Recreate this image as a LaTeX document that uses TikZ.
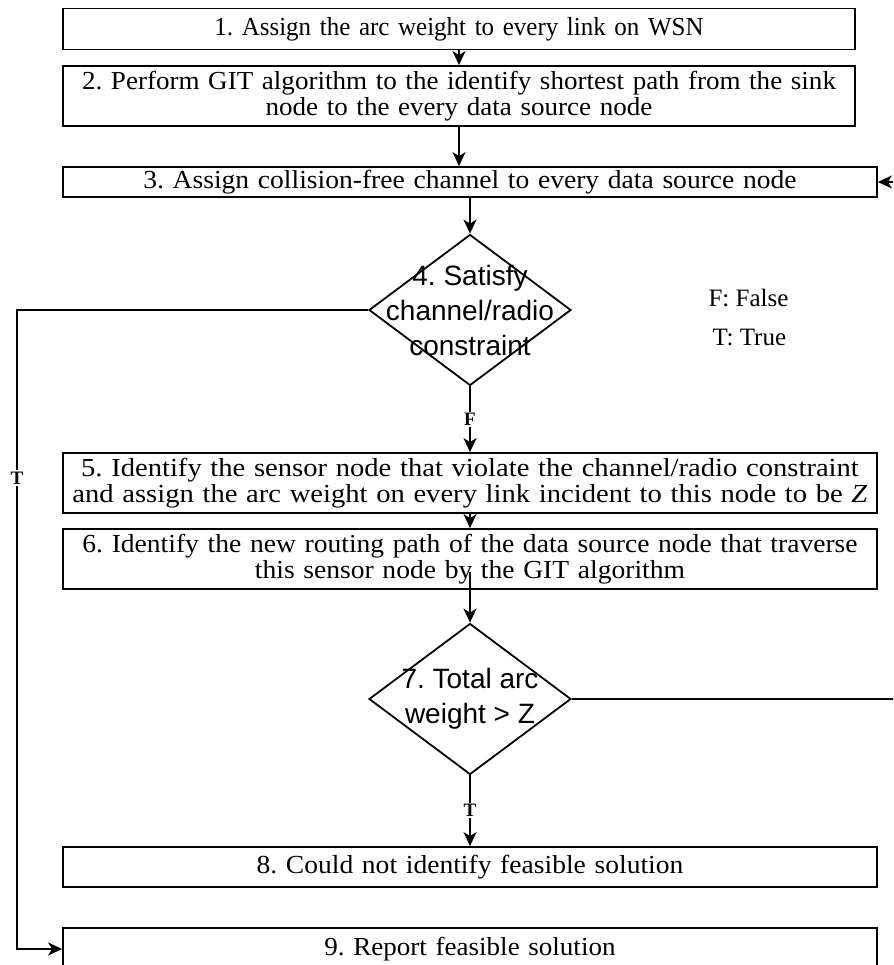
\documentclass[tikz,border=0pt]{standalone}
\usepackage{fontspec}
\setmainfont{Liberation Serif}
\newfontfamily\diafont{Liberation Sans}
% slightly different horizontal set widths for the step texts
\newfontfamily\serifA[FakeStretch=0.96]{Liberation Serif}
\newfontfamily\serifB[FakeStretch=1.04]{Liberation Serif}
\newfontfamily\serifC[FakeStretch=1.06]{Liberation Serif}
\newfontfamily\serifD[FakeStretch=1.10]{Liberation Serif}
\usetikzlibrary{shapes.geometric,arrows.meta}
\frenchspacing
\begin{document}
\begin{tikzpicture}[x=1pt,y=-1pt,
  stepbox/.style={draw, line width=1.8pt, minimum width=814pt, text width=806pt,
    align=center, inner sep=0pt},
  narrowbox/.style={stepbox, minimum width=792pt, text width=784pt},
  decision/.style={draw, diamond, line width=1.8pt, inner sep=0pt,
    minimum width=202pt, minimum height=151pt},
  dtext/.style={align=center, font=\diafont\fontsize{28}{35}\selectfont},
  conn/.style={line width=2pt, -{Stealth[length=14pt,width=13pt,inset=4pt]}},
  lab/.style={fill=white, inner sep=1.5pt, font=\fontsize{19}{19}\selectfont\bfseries},
  legend/.style={anchor=west, font=\fontsize{25}{28}\selectfont}]
\useasboundingbox (0,0) rectangle (893,965);
\clip (0,0) rectangle (893,965);

% process steps
\node[narrowbox, minimum height=41pt, font=\serifA\fontsize{26}{26}\selectfont] (b1) at (459,29)
  {1. Assign the arc weight to every link on WSN};
\node[narrowbox, minimum height=60pt, font=\serifB\fontsize{26}{26}\selectfont] (b2) at (459,96)
  {2. Perform GIT algorithm to the identify shortest path from the sink\\ node to the every data source node};
\node[stepbox, minimum height=30pt, font=\serifC\fontsize{26}{26}\selectfont] (b3) at (470,182)
  {3. Assign collision-free channel to every data source node};
\node[stepbox, minimum height=60pt, font=\serifD\fontsize{26}{26}\selectfont] (b5) at (470,483)
  {5. Identify the sensor node that violate the channel/radio constraint\\ and assign the arc weight on every link incident to this node to be \textit{Z}};
\node[stepbox, minimum height=60pt, font=\serifC\fontsize{26}{26}\selectfont] (b6) at (470,559)
  {6. Identify the new routing path of the data source node that traverse\\ this sensor node by the GIT algorithm};
\node[stepbox, minimum height=40pt, font=\serifC\fontsize{26}{26}\selectfont] (b8) at (470,867)
  {8. Could not identify feasible solution};
\node[stepbox, minimum height=42pt, font=\serifB\fontsize{26}{26}\selectfont] (b9) at (470,949)
  {9. Report feasible solution};

% decisions
\node[decision] (d4) at (470,310) {};
\node[dtext] (d4t) at (d4.center) {4. Satisfy\\channel/radio\\constraint};
\node[decision] (d7) at (470,699) {};
\node[dtext] (d7t) at (d7.center) {7. Total arc\\weight > Z};

% legend
\node[legend] (lf) at (705,298) {F: False};
\node[legend] (lt) at (709,337) {T: True};

% main flow
\draw[conn] (b1) -- (b2);
\draw[conn] (b2) -- (b2 |- b3.north);
\draw[conn] (b3.south -| d4) -- (d4);
\draw[conn] (d4.south) -- node[lab] (lF) {F} (b5.north);
\draw[conn] (b5) -- (b6);
\draw[conn] ([yshift=18pt]b6.south) -- (d7.north);
\draw[conn] (d7.south) -- node[lab] (lT) {T} (b8.north);

% false branch of step 7 runs back round the right side into step 3
\coordinate (rp) at (912,400);
\draw[conn] (d7.east) -| (rp) |- (b3.east);

% true branch of step 4 leads down the left side to step 9
\coordinate (lp) at (17,600);
\draw[conn] (d4.west) -| (lp) |- (b9.west);
\node[lab] (lT4) at (17,478) {T};
\end{tikzpicture}
\end{document}
